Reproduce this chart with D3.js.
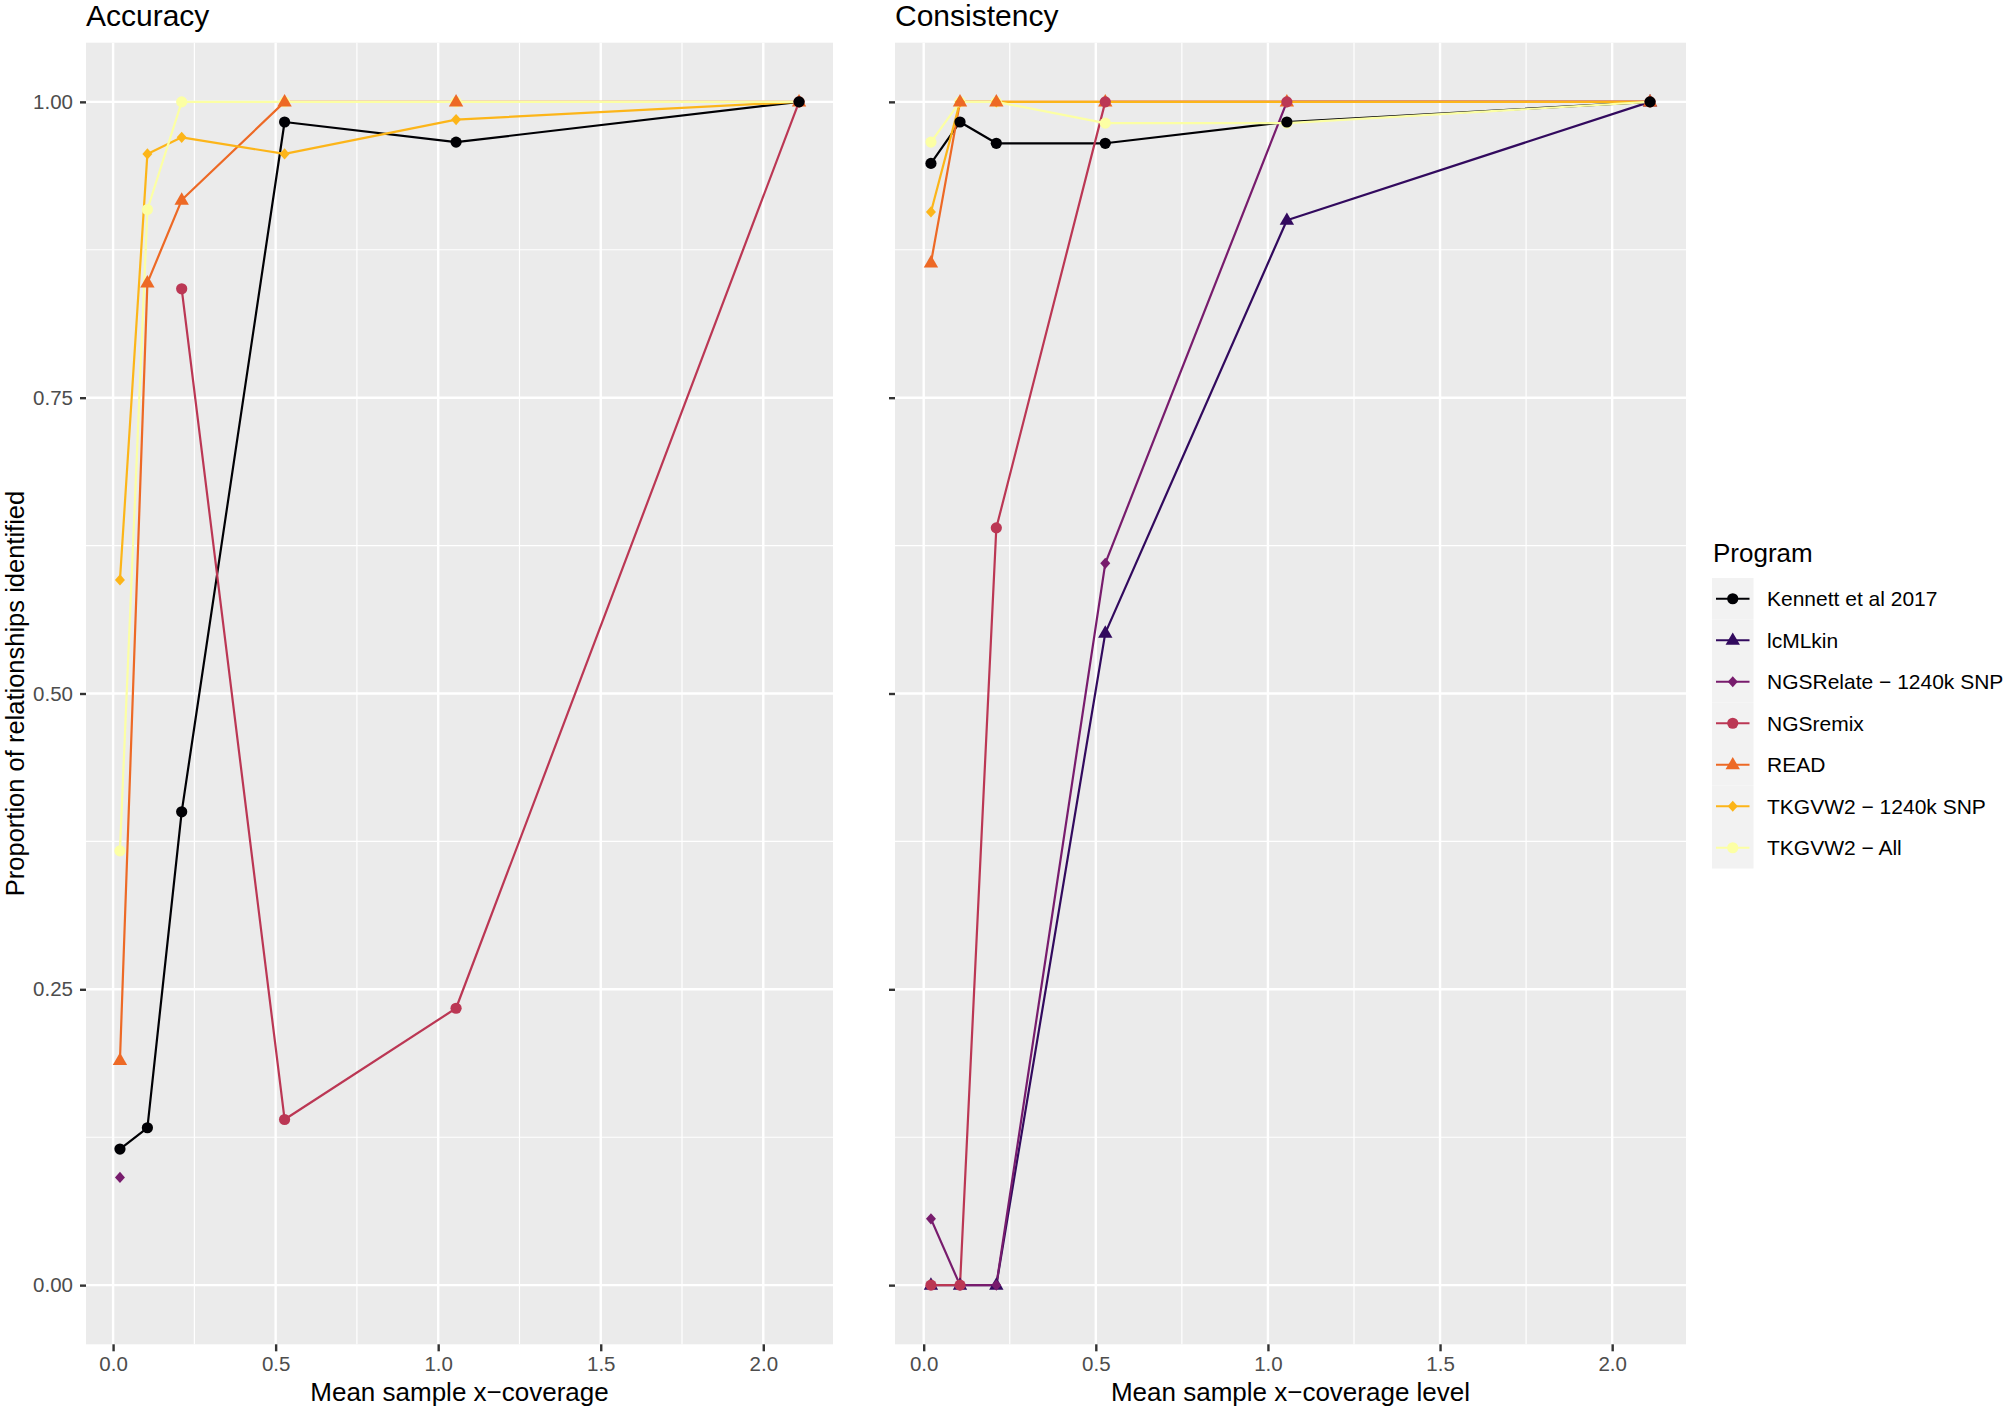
<!DOCTYPE html>
<html>
<head>
<meta charset="utf-8">
<script src="https://cdn.jsdelivr.net/npm/d3@7"></script>
<style>
  html, body { margin: 0; padding: 0; background: #ffffff; }
  svg { display: block; font-family: "Liberation Sans", Arial, sans-serif; }
</style>
</head>
<body>
<svg id="chart" width="2008" height="1408"></svg>
<script>
// ---------------- DATA ----------------
const coverage = [0.0211, 0.1055, 0.211, 0.5275, 1.055, 2.11];
const programs = ["Kennett et al 2017", "lcMLkin", "NGSRelate \u2212 1240k SNP", "NGSremix", "READ", "TKGVW2 \u2212 1240k SNP", "TKGVW2 \u2212 All"];
const colors = ["#000004", "#320A5E", "#781C6D", "#BB3754", "#ED6925", "#FCB519", "#FCFFA4"];
const shapes = ["circle", "triangle", "diamond", "circle", "triangle", "diamond", "circle"];
// stacking order of the point markers (bottom to top), as in the reference
const pointOrder = [1, 2, 6, 5, 4, 3, 0];

// Accuracy (proportion of relationships identified), one array per program
const accKennett   = [0.115, 0.133, 0.400, 0.983, 0.966, 1.000];
const accLcMLkin   = [null, null, null, null, null, null];
const accNGSRelate = [0.091, null, null, null, null, null];
const accNGSremix  = [null, null, 0.842, 0.140, 0.234, 1.000];
const accREAD      = [0.190, 0.847, 0.917, 1.000, 1.000, 1.000];
const accTK1240    = [0.596, 0.956, 0.970, 0.956, 0.985, 1.000];
const accTKAll     = [0.367, 0.909, 1.000, 1.000, 1.000, 1.000];

// Consistency
const conKennett   = [0.948, 0.983, 0.965, 0.965, 0.983, 1.000];
const conLcMLkin   = [0.000, 0.000, 0.000, 0.551, 0.900, 1.000];
const conNGSRelate = [0.056, 0.000, 0.000, 0.610, 1.000, 1.000];
const conNGSremix  = [0.000, 0.000, 0.640, 1.000, 1.000, 1.000];
const conREAD      = [0.864, 1.000, 1.000, 1.000, 1.000, 1.000];
const conTK1240    = [0.907, 1.000, 1.000, 1.000, 1.000, 1.000];
const conTKAll     = [0.966, 1.000, 1.000, 0.982, 0.982, 1.000];

const xTicks = [0.0, 0.5, 1.0, 1.5, 2.0];
const xTickLabels = ["0.0", "0.5", "1.0", "1.5", "2.0"];
const yTicks = [0.00, 0.25, 0.50, 0.75, 1.00];
const yTickLabels = ["0.00", "0.25", "0.50", "0.75", "1.00"];

const accuracy = [accKennett, accLcMLkin, accNGSRelate, accNGSremix, accREAD, accTK1240, accTKAll];
const consistency = [conKennett, conLcMLkin, conNGSRelate, conNGSremix, conREAD, conTK1240, conTKAll];

// ---------------- DRAWING ----------------
const svg = d3.select("#chart");
const panelTop = 42.7, panelBottom = 1344.3;
const FONT = "Liberation Sans, Arial, sans-serif";

function expand(ext, mult) {
  const r = ext[1] - ext[0];
  return [ext[0] - r * mult, ext[1] + r * mult];
}
const xDomain = expand(d3.extent(coverage), 0.05);
const yDomain = expand([0, 1], 0.05);

function symbolPath(shape) {
  if (shape === "circle") {
    const r = 5.6;
    return `M${-r},0A${r},${r} 0 1,0 ${r},0A${r},${r} 0 1,0 ${-r},0Z`;
  }
  if (shape === "triangle") {
    return "M0,-7.8L7.2,4.6L-7.2,4.6Z";
  }
  return "M0,-5.6L5.0,0L0,5.6L-5.0,0Z";
}

function drawPanel(opts) {
  const { x0, x1, title, xTitle, data, showYLabels } = opts;
  const x = d3.scaleLinear().domain(xDomain).range([x0, x1]);
  const y = d3.scaleLinear().domain(yDomain).range([panelBottom, panelTop]);
  const g = svg.append("g");

  g.append("rect").attr("x", x0).attr("y", panelTop)
    .attr("width", x1 - x0).attr("height", panelBottom - panelTop)
    .attr("fill", "#EBEBEB");

  const xMinor = [0.25, 0.75, 1.25, 1.75];
  const yMinor = [0.125, 0.375, 0.625, 0.875];
  g.selectAll(".xminor").data(xMinor).enter().append("line")
    .attr("x1", d => x(d)).attr("x2", d => x(d))
    .attr("y1", panelTop).attr("y2", panelBottom)
    .attr("stroke", "#FFFFFF").attr("stroke-width", 1.2);
  g.selectAll(".yminor").data(yMinor).enter().append("line")
    .attr("x1", x0).attr("x2", x1)
    .attr("y1", d => y(d)).attr("y2", d => y(d))
    .attr("stroke", "#FFFFFF").attr("stroke-width", 1.2);
  g.selectAll(".xmajor").data(xTicks).enter().append("line")
    .attr("x1", d => x(d)).attr("x2", d => x(d))
    .attr("y1", panelTop).attr("y2", panelBottom)
    .attr("stroke", "#FFFFFF").attr("stroke-width", 2.4);
  g.selectAll(".ymajor").data(yTicks).enter().append("line")
    .attr("x1", x0).attr("x2", x1)
    .attr("y1", d => y(d)).attr("y2", d => y(d))
    .attr("stroke", "#FFFFFF").attr("stroke-width", 2.4);

  const xAxis = d3.axisBottom(x).tickValues(xTicks)
    .tickFormat((d, i) => xTickLabels[i]).tickSize(7).tickPadding(5);
  const xa = g.append("g").attr("transform", `translate(0,${panelBottom})`).call(xAxis);
  xa.select(".domain").remove();
  xa.selectAll(".tick line").attr("stroke", "#333333").attr("stroke-width", 2.4);
  xa.selectAll(".tick text").attr("fill", "#4D4D4D").attr("font-size", 20.5)
    .attr("font-family", FONT);

  const yAxis = d3.axisLeft(y).tickValues(yTicks)
    .tickFormat((d, i) => showYLabels ? yTickLabels[i] : "").tickSize(6).tickPadding(7);
  const ya = g.append("g").attr("transform", `translate(${x0},0)`).call(yAxis);
  ya.select(".domain").remove();
  ya.selectAll(".tick line").attr("stroke", "#333333").attr("stroke-width", 2.4);
  ya.selectAll(".tick text").attr("fill", "#4D4D4D").attr("font-size", 20.5)
    .attr("font-family", FONT);

  const line = d3.line()
    .defined(d => d.v !== null)
    .x(d => x(d.c)).y(d => y(d.v));
  data.forEach((vals, i) => {
    const pts = vals.map((v, j) => ({ c: coverage[j], v: v }));
    g.append("path").datum(pts)
      .attr("d", line)
      .attr("fill", "none")
      .attr("stroke", colors[i])
      .attr("stroke-width", 2.2)
      .attr("stroke-linejoin", "round");
  });
  pointOrder.forEach(i => {
    const pts = data[i].map((v, j) => ({ c: coverage[j], v: v })).filter(d => d.v !== null);
    g.selectAll(null).data(pts).enter().append("path")
      .attr("d", symbolPath(shapes[i]))
      .attr("transform", d => `translate(${x(d.c)},${y(d.v)})`)
      .attr("fill", colors[i]);
  });

  g.append("text").attr("x", x0).attr("y", 25.5)
    .attr("font-size", 30).attr("fill", "#000000").text(title);
  g.append("text").attr("x", (x0 + x1) / 2).attr("y", 1401)
    .attr("text-anchor", "middle").attr("font-size", 26)
    .attr("fill", "#000000").text(xTitle);
}

drawPanel({ x0: 86, x1: 833, title: "Accuracy", xTitle: "Mean sample x\u2212coverage", data: accuracy, showYLabels: true });
drawPanel({ x0: 895, x1: 1686, title: "Consistency", xTitle: "Mean sample x\u2212coverage level", data: consistency, showYLabels: false });

svg.append("text")
  .attr("transform", `translate(24,${(panelTop + panelBottom) / 2}) rotate(-90)`)
  .attr("text-anchor", "middle").attr("font-size", 25.5).attr("fill", "#000000")
  .text("Proportion of relationships identified");

// ---------------- LEGEND ----------------
const legX = 1712, legTop = 578, keySize = 41.5;
svg.append("text").attr("x", legX + 1).attr("y", 562)
  .attr("font-size", 26).attr("fill", "#000000").text("Program");
const leg = svg.append("g");
programs.forEach((p, i) => {
  const yTop = legTop + i * keySize;
  const cy = yTop + keySize / 2;
  leg.append("rect").attr("x", legX).attr("y", yTop)
    .attr("width", keySize).attr("height", keySize).attr("fill", "#F2F2F2");
  leg.append("line").attr("x1", legX + 4).attr("x2", legX + keySize - 4)
    .attr("y1", cy).attr("y2", cy)
    .attr("stroke", colors[i]).attr("stroke-width", 2.2);
  leg.append("path").attr("d", symbolPath(shapes[i]))
    .attr("transform", `translate(${legX + keySize / 2},${cy})`)
    .attr("fill", colors[i]);
  leg.append("text").attr("x", 1767).attr("y", cy + 7.5)
    .attr("font-size", 21).attr("fill", "#000000").text(p);
});
</script>
</body>
</html>
